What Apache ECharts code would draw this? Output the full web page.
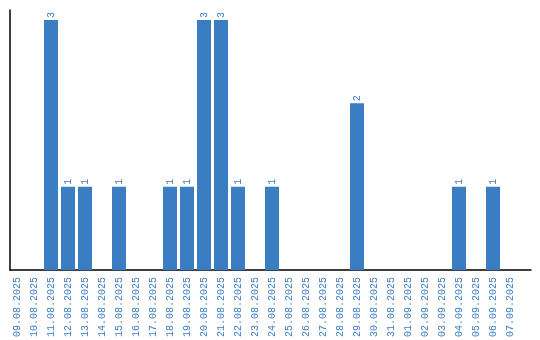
<!DOCTYPE html>
<html><head><meta charset="utf-8">
<script src="https://cdn.jsdelivr.net/npm/echarts@6/dist/echarts.min.js"></script>
<style>html,body{margin:0;padding:0;background:#fff}#c{width:540px;height:340px}</style>
</head><body><div id="c"></div>
<script>
const categories = ["09.08.2025","10.08.2025","11.08.2025","12.08.2025","13.08.2025","14.08.2025","15.08.2025","16.08.2025","17.08.2025","18.08.2025","19.08.2025","20.08.2025","21.08.2025","22.08.2025","23.08.2025","24.08.2025","25.08.2025","26.08.2025","27.08.2025","28.08.2025","29.08.2025","30.08.2025","31.08.2025","01.09.2025","02.09.2025","03.09.2025","04.09.2025","05.09.2025","06.09.2025","07.09.2025"];
const values = [0,0,3,1,1,0,1,0,0,1,1,3,3,1,0,1,0,0,0,0,2,0,0,0,0,0,1,0,1,0];
const blue = '#3b7dc3';
const font = 'Liberation Mono';
const chart = echarts.init(document.getElementById('c'));
chart.setOption({
  animation: false,
  grid: [
    {left: 8.5, right: 21.5, top: 20, bottom: 70},
    {left: 10, right: 9, top: 10, bottom: 70}
  ],
  xAxis: [
    {type: 'category', gridIndex: 0, data: categories,
     axisLine: {show: false}, axisTick: {show: false},
     axisLabel: {rotate: 90, interval: 0, color: blue, fontFamily: font, fontSize: 10, margin: 7}},
    {type: 'value', gridIndex: 1, min: 0, max: 1,
     axisLine: {show: true, onZero: false, lineStyle: {color: '#000', width: 1.5}},
     axisTick: {show: false}, axisLabel: {show: false}, splitLine: {show: false}}
  ],
  yAxis: [
    {type: 'value', gridIndex: 0, min: 0, max: 3,
     axisLine: {show: false}, axisTick: {show: false}, axisLabel: {show: false}, splitLine: {show: false}},
    {type: 'value', gridIndex: 1, min: 0, max: 1,
     axisLine: {show: true, onZero: false, lineStyle: {color: '#000', width: 1.5}},
     axisTick: {show: false}, axisLabel: {show: false}, splitLine: {show: false}}
  ],
  series: [{
    type: 'bar', xAxisIndex: 0, yAxisIndex: 0, data: values, barWidth: 14,
    itemStyle: {color: blue},
    label: {show: true, position: 'top', rotate: 90, align: 'left', verticalAlign: 'middle', distance: 2,
      color: blue, fontFamily: font, fontSize: 10,
      formatter: p => p.value ? String(p.value) : ''}
  }]
});
</script></body></html>
